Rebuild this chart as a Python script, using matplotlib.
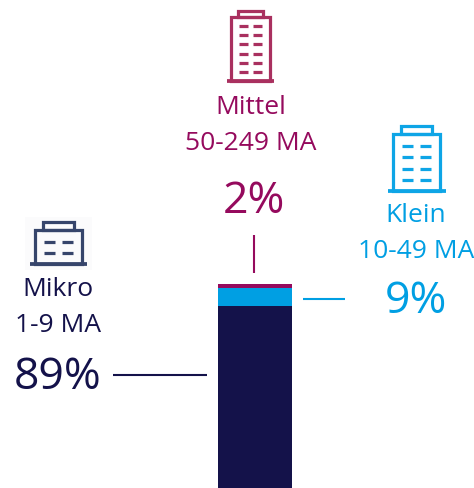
import matplotlib
matplotlib.use("Agg")
import matplotlib.pyplot as plt
from matplotlib.patches import Rectangle

plt.rcParams['font.family'] = ['Open Sans', 'DejaVu Sans']

W, H = 474, 489
categories = ["Mikro", "Klein", "Mittel"]
ranges = ["1-9 MA", "10-49 MA", "50-249 MA"]
values = [89, 9, 2]
value_labels = ["89%", "9%", "2%"]
colors = ["#14124a", "#009fe3", "#950a5d"]
icon_colors = ["#36456b", "#0ea5e6", "#a9305f"]

fig = plt.figure(figsize=(W / 100, H / 100), dpi=100)
fig.patch.set_facecolor("white")

# stacked bar
ax = fig.add_axes([218 / W, 0, 74 / W, 204 / H])
ax.set_xlim(-0.5, 0.5)
ax.set_ylim(0, sum(values))
bottom = 0
for v, c in zip(values, colors):
    ax.bar(0, v, width=1, bottom=bottom, color=c, linewidth=0)
    bottom += v
ax.axis("off")

# overlay in pixel coordinates for labels and pictograms
ov = fig.add_axes([0, 0, 1, 1], facecolor="none")
ov.set_xlim(0, W)
ov.set_ylim(H, 0)
ov.axis("off")


def icon(col, outer, roof, base_x, win_rows, win_x, lw=3.2):
    x0, x1, y0, y1 = outer
    ov.add_patch(Rectangle((x0, y0), x1 - x0, y1 - y0, fill=False, ec=col, lw=lw * 0.72))
    rx0, rx1, ry0, ry1 = roof
    ov.add_patch(Rectangle((rx0, ry0), rx1 - rx0, ry1 - ry0, fill=False, ec=col, lw=lw * 0.72))
    ov.plot(base_x, [y1, y1], color=col, lw=lw * 0.85, solid_capstyle="butt")
    for r in win_rows:
        for wx in win_x:
            ov.plot(wx, [r, r], color=col, lw=lw * 0.72, solid_capstyle="butt")


# faint backdrop behind the Mikro icon
ov.add_patch(Rectangle((25, 218), 67, 53, fc="#fbfbfc", ec="none"))

icon(icon_colors[2], (231.5, 270, 18, 82), (238.5, 263, 11.5, 18), (227, 274),
     [26.5, 35.5, 44.5, 54.5, 63.5, 72.5], [(239, 248), (253, 262.5)])
icon(icon_colors[1], (393, 440, 134.5, 192), (401, 432, 126.5, 134.5), (388, 446),
     [146.5, 157.5, 169.5, 180.5], [(402, 413), (420, 431)])
icon(icon_colors[0], (35, 82, 231, 265), (43, 74, 223, 231), (30, 87),
     [243, 254], [(44, 55), (62, 73)])

# connector lines
ov.plot([254, 254], [236, 274], color=colors[2], lw=1.5, solid_capstyle="butt")
ov.plot([303, 345], [300, 300], color=colors[1], lw=1.5, solid_capstyle="butt")
ov.plot([113, 207], [376, 376], color=colors[0], lw=1.5, solid_capstyle="butt")

# labels: (x, y name, y range, x val, y val)
label_pos = [(58, 290, 325, 58, 378), (416, 216, 251, 416, 302), (251, 107, 143, 254, 202)]
for i, (x, y1, y2, xv, yv) in enumerate(label_pos):
    c = colors[i]
    ov.text(x, y1, categories[i], color=c, fontsize=19, ha="center", va="center")
    ov.text(x, y2, ranges[i], color=c, fontsize=19, ha="center", va="center")
    ov.text(xv, yv, value_labels[i], color=c, fontsize=32, ha="center", va="center")

fig.savefig("out.png", dpi=100)
